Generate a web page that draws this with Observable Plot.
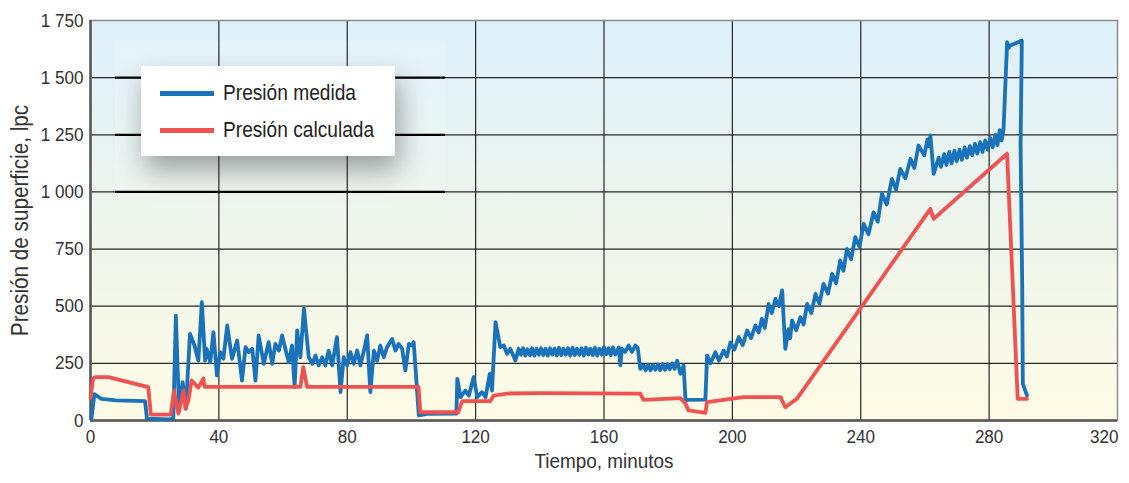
<!DOCTYPE html>
<html><head><meta charset="utf-8">
<script src="https://cdn.jsdelivr.net/npm/d3@7"></script>
<script src="https://cdn.jsdelivr.net/npm/@observablehq/plot@0.6"></script>
<style>
body{margin:0;background:#fff;}
#wrap{position:relative;width:1129px;height:483px;}
#legend{position:absolute;left:141px;top:66px;width:254px;height:90px;background:#fff;
  box-shadow:4px 14px 26px rgba(40,40,40,0.42);font-family:"Liberation Sans Narrow","Liberation Sans",Arial,sans-serif;font-size:22px;color:#222;}
.row{position:absolute;left:19px;height:26px;line-height:26px;white-space:nowrap;}
.sw{position:absolute;left:0;top:11px;width:54px;height:5px;}
.lab{position:absolute;left:63px;top:0;transform:scaleX(0.87);transform-origin:left center;}
</style>
</head><body>
<div id="wrap"></div>
<script>
const xTicks = [0, 40, 80, 120, 160, 200, 240, 280, 320];
const yTicks = [0, 250, 500, 750, 1000, 1250, 1500, 1750];
const yTickLabels = ["0", "250", "500", "750", "1 000", "1 250", "1 500", "1 750"];
const seriesNames = ["Presión medida", "Presión calculada"];
const seriesColors = ["#1a73ba", "#f05252"];
const xTitle = "Tiempo, minutos";
const yTitle = "Presión de superficie, lpc";
const legendRuleLevels = [1000, 1250, 1500];

// [minutos, lpc]
const medida = [
 [0.3,10],[1.2,115],[3.4,95],[8,88],[17,85],[17.6,8],[24.8,5],[25.8,10],[26.6,459],[27.6,44],[28.7,168],[29.7,51],
 [31,379],[32.4,328],[33.6,262],[34.7,518],[35.7,262],[36.2,313],[37.3,255],[38.3,386],[39.4,197],[40.4,299],[41.4,270],
 [42.6,416],[44.1,270],[45.7,350],[47.2,175],[48.3,321],[49.3,299],[50.4,314],[51.4,175],[52.4,372],[54,248],[55.5,343],
 [56.6,248],[57.6,335],[58.7,306],[59.7,372],[60.7,314],[61.8,255],[62.8,328],[63.6,146],[64.4,394],[65.4,277],[66.5,489],
 [68,277],[69.1,248],[70.1,284],[71.1,241],[72.2,277],[73.2,241],[74.2,306],[75.3,241],[76.8,365],[77.9,124],[78.9,277],
 [80,241],[81,299],[82,248],[83.1,306],[84.1,241],[85.2,306],[86.2,372],[87.2,124],[88.3,306],[89.3,262],[90.3,328],
 [91.4,277],[92.4,321],[94,357],[95,306],[96,335],[97.1,314],[98.1,219],[99.2,335],[100.2,328],[100.7,343],[102.3,22],
 [104.9,29],[114,30],[114.3,182],[115.3,102],[116.8,131],[117.9,109],[119.4,190],[120.5,102],[122,124],[123.1,102],
 [124.4,204],[125.1,131],[126.2,430],[127.2,357],[127.7,321],[128.8,328],[129.8,292],[130.8,314],[132.4,262],[133.4,314],
 [134.1,288],[134.8,316],[135.5,284],[136.2,312],[136.9,286],[137.6,316],[138.3,284],[139,314],[139.7,288],[140.4,316],
 [141.1,286],[141.8,314],[142.5,284],[143.2,316],[143.9,288],[144.6,314],[145.3,284],[146,318],[146.7,286],[147.4,314],
 [148.1,288],[148.8,316],[149.5,284],[150.2,318],[150.9,286],[151.6,314],[152.3,288],[153,316],[153.7,284],[154.4,318],
 [155.1,288],[155.8,314],[156.5,286],[157.2,318],[157.9,284],[158.6,314],[159.3,288],[160,320],[160.7,290],[161.4,316],
 [162.1,286],[162.8,320],[163.5,288],[164.6,320],[165.1,241],[165.6,314],[166.6,300],[167.7,328],[168.7,300],[169.8,328],
 [170.5,318],[171.3,226],[172.3,241],[173,220],[173.8,243],[174.5,220],[175.3,243],[176,222],[176.8,245],[177.5,220],
 [178.3,246],[179,222],[179.8,246],[180.5,224],[181.3,250],[182,226],[182.8,262],[183.8,204],[184.8,241],[185.4,87],
 [186,90],[191.6,91],[192.1,284],[193.2,250],[194.7,299],[195.8,262],[197.3,306],[198.3,280],[199.4,342],[200.6,310],
 [202,365],[203.2,330],[204.6,394],[205.8,360],[207.2,416],[208.2,385],[209.2,445],[210.1,405],[211.3,510],[212.3,470],
 [213.4,532],[214.5,500],[215.5,569],[216.5,313],[217.5,400],[218,360],[218.6,438],[219.9,395],[221.2,452],[222.2,420],
 [223.3,510],[224.6,470],[225.9,554],[227.1,510],[228.4,598],[229.8,555],[231.1,642],[232.3,600],[233.6,700],[234.6,655],
 [235.7,751],[237,705],[238.3,802],[239.6,760],[240.9,860],[242.4,815],[244,911],[245.3,870],[246.6,992],[248.1,945],
 [249.7,1057],[251,1010],[252.3,1101],[253.9,1060],[255.5,1145],[256.7,1105],[258,1203],[259.8,1160],[260.8,1230],
 [261.2,1200],[261.7,1247],[262.7,1079],[264.3,1150],[265,1110],[266,1165],[266.7,1118],[267.6,1175],[268.3,1125],
 [269.2,1180],[269.9,1135],[270.8,1185],[271.5,1140],[272.4,1195],[273.1,1150],[274,1200],[274.7,1160],[275.6,1210],
 [276.3,1168],[277.2,1218],[277.9,1175],[278.8,1225],[279.5,1185],[280.4,1235],[281.1,1195],[282,1250],[282.6,1205],
 [283.3,1270],[283.9,1225],[284.5,1276],[285.6,1655],[286.1,1630],[286.4,1640],[290.2,1662],[289.8,1210],[290.3,600],
 [290.5,160],[291.8,109]
];
const calculada = [
 [0,100],[0.8,184],[1.5,190],[5.6,190],[18,146],[18.8,26],[25,26],[26,131],[27.4,30],[29,131],[29.6,52],[30.5,87],
 [31.5,175],[33.6,144],[35.2,184],[35.5,147],[65.4,147],[66.3,233],[67.5,147],[102.2,147],[102.8,36],[114.6,36],
 [115.8,85],[124.6,85],[125.6,109],[129.8,118],[140,120],[171.3,118],[172.3,90],[183.8,98],[185.4,74],[186.3,44],
 [191.6,33],[192.1,80],[203.4,102],[215,102],[216.5,58],[220.1,95],[261.7,926],[262.7,882],[285.6,1167],[288.9,95],
 [291.8,95]
];

const font = '"Liberation Sans Narrow","Liberation Sans",Arial,sans-serif';
const chart = Plot.plot({
  width: 1129, height: 483,
  marginLeft: 90, marginRight: 12, marginTop: 20, marginBottom: 63,
  style: {fontFamily: font, fontSize: "19px", color: "#333", background: "transparent"},
  x: {domain: [0, 320], label: null},
  y: {domain: [0, 1750], label: null},
  marks: [
    Plot.frame({fill: "url(#bgGrad)", stroke: null}),
    Plot.rect([{}], {x1: 7.8, x2: 110.6, y1: 1000, y2: 1660, fill: "white", fillOpacity: 0.16}),
    Plot.gridX(xTicks.slice(1, -1), {stroke: "#111", strokeOpacity: 0.9, strokeWidth: 1.2}),
    Plot.gridY(yTicks.slice(1, -1), {stroke: "#111", strokeOpacity: 0.9, strokeWidth: 1.2}),
    Plot.ruleY(legendRuleLevels, {x1: 7.8, x2: 110.6, stroke: "#000", strokeWidth: 2.2}),
    Plot.frame({stroke: "#8a8a8a", strokeWidth: 1.5}),
    Plot.ruleX([0], {stroke: "#555", strokeWidth: 2.5}),
    Plot.ruleY([0], {stroke: "#555", strokeWidth: 2.5}),
    Plot.line(medida, {x: d => d[0], y: d => d[1], stroke: seriesColors[0], strokeWidth: 3.8, strokeLinejoin: "round"}),
    Plot.line(calculada, {x: d => d[0], y: d => d[1], stroke: seriesColors[1], strokeWidth: 3.8, strokeLinejoin: "round"}),
    Plot.axisX(xTicks.slice(0, -1), {tickSize: 0, tickPadding: 9, label: null, fontSize: 19}),
    Plot.axisX(xTicks.slice(-1), {tickSize: 0, tickPadding: 9, label: null, fontSize: 19, textAnchor: "end", dx: 1}),
    Plot.axisY(yTicks, {tickSize: 0, tickPadding: 7, label: null, fontSize: 19,
      tickFormat: d => yTickLabels[yTicks.indexOf(d)]}),
    Plot.text([xTitle], {text: d => d, frameAnchor: "bottom", dy: 47, fontSize: 21, fill: "#333", className: "xtitle"}),
    Plot.text([yTitle], {text: d => d, frameAnchor: "left", textAnchor: "middle", rotate: -90, dx: -70, fontSize: 23, fill: "#333", className: "ytitle"})
  ]
});

const ns = "http://www.w3.org/2000/svg";
const defs = document.createElementNS(ns, "defs");
defs.innerHTML = '<linearGradient id="bgGrad" x1="0" y1="0" x2="0" y2="1">' +
  '<stop offset="0" stop-color="rgb(221,240,251)"/>' +
  '<stop offset="0.5" stop-color="rgb(238,245,236)"/>' +
  '<stop offset="1" stop-color="rgb(253,251,229)"/></linearGradient>';
chart.insertBefore(defs, chart.firstChild);

const wrap = document.getElementById("wrap");
wrap.appendChild(chart);

// condense every text horizontally to mimic the condensed typeface
chart.querySelectorAll("text").forEach(t => {
  const w = t.getComputedTextLength();
  if (w > 0) {
    t.setAttribute("textLength", (w * 0.9).toFixed(1));
    t.setAttribute("lengthAdjust", "spacingAndGlyphs");
  }
});

const legend = document.createElement("div");
legend.id = "legend";
seriesNames.forEach((name, i) => {
  const row = document.createElement("div");
  row.className = "row";
  row.style.top = (14 + i * 37) + "px";
  row.innerHTML = `<div class="sw" style="background:${seriesColors[i]}"></div><div class="lab">${name}</div>`;
  legend.appendChild(row);
});
wrap.appendChild(legend);
</script>
</body></html>
